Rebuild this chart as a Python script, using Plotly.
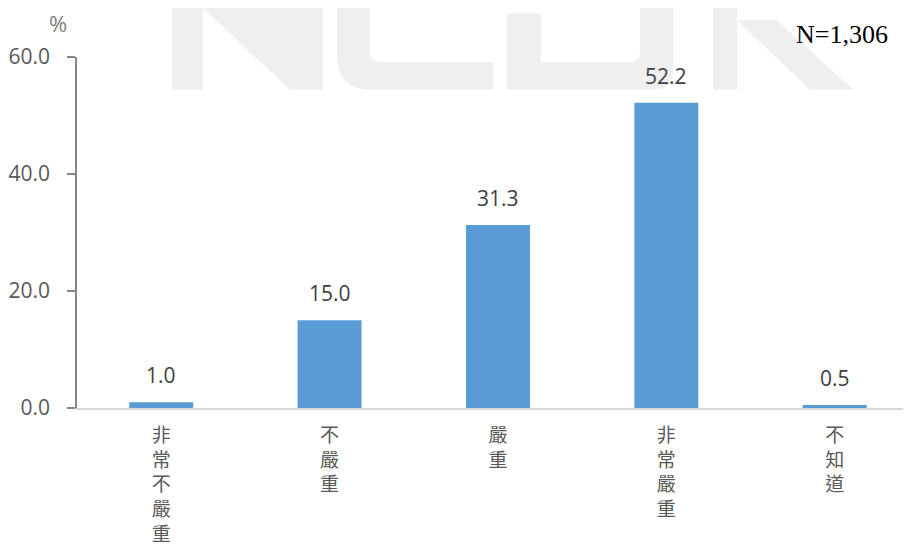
import plotly.graph_objects as go

categories = ["非常不嚴重", "不嚴重", "嚴重", "非常嚴重", "不知道"]
values = [1.0, 15.0, 31.3, 52.2, 0.5]
value_labels = ["1.0", "15.0", "31.3", "52.2", "0.5"]
y_ticks = [0, 20, 40, 60]
y_tick_labels = ["0.0", "20.0", "40.0", "60.0"]
sample_note = "N=1,306"
unit_label = "%"

# page body has an 8px margin; the figure is laid out in page pixels minus 8
OFF = 8
W, H = 911 - OFF, 546 - OFF
ML, MR, MT, MB = 77 - OFF, 0, 57 - OFF, 136
PW, PH = W - ML - MR, H - MT - MB

def px(x):
    return (x - OFF - ML) / PW

def py(y):
    return (H - MB - (y - OFF)) / PH

def path(cmds):
    out = []
    for cmd in cmds:
        if cmd[0] in ("M", "L"):
            out.append(f"{cmd[0]}{px(cmd[1]):.5f},{py(cmd[2]):.5f}")
        elif cmd[0] == "Q":
            out.append(f"Q{px(cmd[1]):.5f},{py(cmd[2]):.5f} {px(cmd[3]):.5f},{py(cmd[4]):.5f}")
        elif cmd[0] == "Z":
            out.append("Z")
    return " ".join(out)

WM = "#efefef"
shapes = []
def add(p, color):
    shapes.append(dict(type="path", xref="paper", yref="paper", path=p,
                       fillcolor=color, line=dict(width=0), layer="below"))

# Watermark (NCDR logo, decorative)
add(path([("M", 172, 0), ("L", 323, 0), ("L", 323, 90), ("L", 290, 90),
          ("L", 203, 8), ("L", 203, 90), ("L", 172, 90), ("Z",)]), WM)
add(path([("M", 337, 0), ("L", 673, 0), ("L", 673, 70), ("Q", 673, 90, 653, 90),
          ("L", 372, 90), ("Q", 337, 90, 337, 55), ("Z",)]), WM)
add(path([("M", 370, 0), ("L", 640, 0), ("L", 640, 52), ("Q", 640, 62, 630, 62),
          ("L", 380, 62), ("Q", 370, 62, 370, 52), ("Z",)]), "white")
add(path([("M", 493, 60), ("L", 507, 60), ("L", 507, 92), ("L", 493, 92), ("Z",)]), "white")
add(path([("M", 507, 13), ("L", 541, 13), ("L", 541, 62), ("L", 507, 62), ("Z",)]), WM)
add(path([("M", 713, 0), ("L", 737, 0), ("L", 737, 90), ("L", 713, 90), ("Z",)]), WM)
add(path([("M", 737, 20), ("L", 777, 20), ("L", 853, 90), ("L", 810, 90), ("Z",)]), WM)

fig = go.Figure()
fig.add_trace(go.Bar(
    x=categories, y=values,
    marker=dict(color="#5B9BD5", line=dict(width=0)),
    hoverinfo="skip",
))

annotations = []
for c, v, t in zip(categories, values, value_labels):
    annotations.append(dict(x=c, y=v, text=t, showarrow=False, yanchor="middle",
                            yshift=27, font=dict(family="Open Sans", size=21, color="#404040")))
annotations.append(dict(xref="paper", yref="paper", x=px(58), y=py(23), text=unit_label,
                        showarrow=False, xanchor="center", yanchor="middle",
                        font=dict(family="Open Sans", size=22, color="#7f7f7f")))
annotations.append(dict(xref="paper", yref="paper", x=px(890), y=py(34), text=sample_note,
                        showarrow=False, xanchor="right", yanchor="middle",
                        font=dict(family="Liberation Serif", size=26, color="#000000")))

fig.update_layout(
    width=W, height=H,
    margin=dict(l=ML, r=MR, t=MT, b=MB, pad=0),
    paper_bgcolor="white", plot_bgcolor="rgba(0,0,0,0)",
    showlegend=False,
    bargap=0.62,
    shapes=shapes,
    annotations=annotations,
    xaxis=dict(
        type="category",
        range=[-0.5, 4.453],
        tickmode="array",
        tickvals=categories,
        ticktext=["<br>".join(list(c)) for c in categories],
        tickfont=dict(family="Noto Sans CJK TC", size=19, color="#595959"),
        showline=True, linecolor="#d9d9d9", linewidth=2,
        ticks="", showgrid=False, zeroline=False,
        ticklabelstandoff=9,
    ),
    yaxis=dict(
        range=[0, 60],
        tickmode="array",
        tickvals=y_ticks,
        ticktext=y_tick_labels,
        tickfont=dict(family="Open Sans", size=21, color="#595959"),
        showline=True, linecolor="#868686", linewidth=1.5,
        ticks="outside", ticklen=8, tickcolor="#868686", tickwidth=1.5,
        showgrid=False, zeroline=False,
        ticklabelstandoff=13,
    ),
)

fig.write_html("out.html")
